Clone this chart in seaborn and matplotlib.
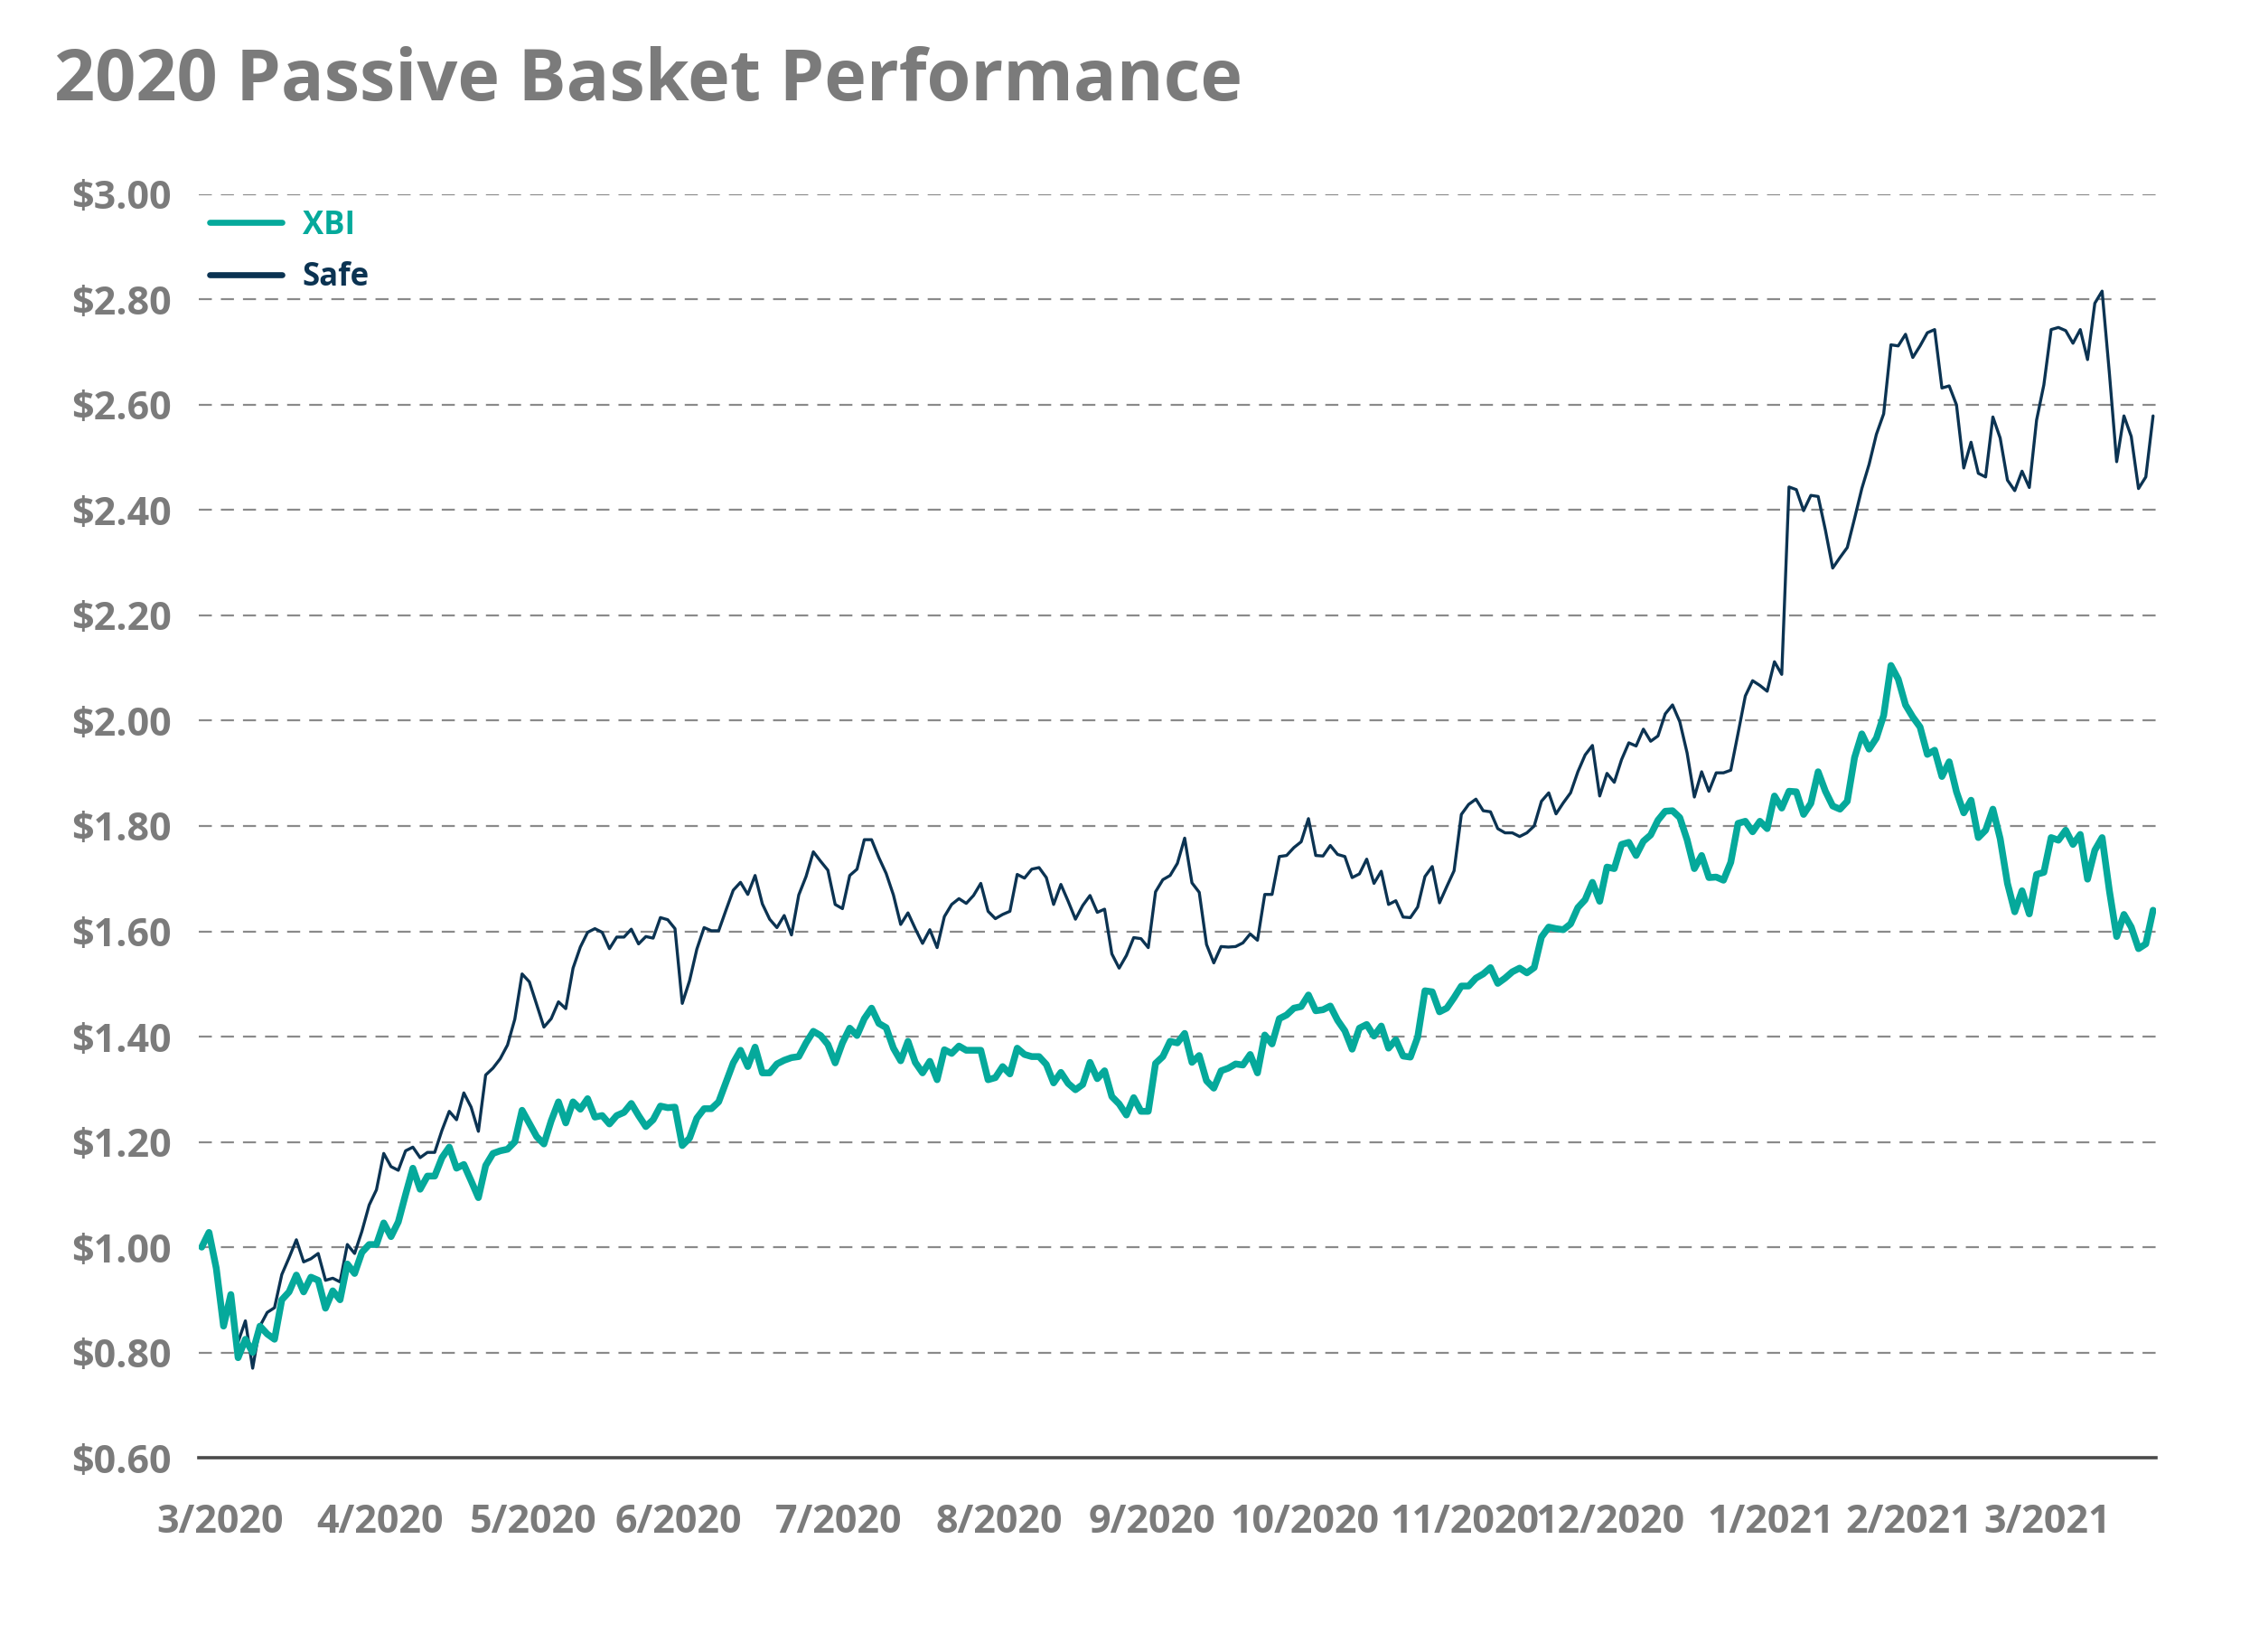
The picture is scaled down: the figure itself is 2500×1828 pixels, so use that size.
import numpy as np
import pandas as pd
import matplotlib
matplotlib.use("Agg")
import matplotlib.pyplot as plt
import seaborn as sns
from matplotlib.lines import Line2D

# values, one per trading day from 3/2/2020
xbi = [1.00, 1.028, 0.96, 0.85, 0.91, 0.79, 0.825, 0.80, 0.85, 0.835,
       0.825, 0.90, 0.915, 0.947, 0.915, 0.943, 0.937, 0.884, 0.917, 0.90,
       0.968, 0.95, 0.99, 1.005, 1.005, 1.046, 1.02, 1.048, 1.10, 1.15,
       1.11, 1.135, 1.135, 1.17, 1.19, 1.15, 1.157, 1.126, 1.094, 1.155,
       1.178, 1.183, 1.186, 1.20, 1.26, 1.235, 1.21, 1.196, 1.24, 1.276,
       1.236, 1.276, 1.262, 1.282, 1.247, 1.25, 1.234, 1.25, 1.256, 1.273,
       1.25, 1.229, 1.242, 1.268, 1.265, 1.266, 1.193, 1.207, 1.245, 1.263,
       1.263, 1.276, 1.313, 1.35, 1.374, 1.343, 1.38, 1.331, 1.331, 1.348,
       1.355, 1.36, 1.362, 1.388, 1.41, 1.402, 1.385, 1.35, 1.388, 1.416,
       1.402, 1.434, 1.454, 1.425, 1.417, 1.378, 1.354, 1.391, 1.351, 1.331,
       1.353, 1.318, 1.375, 1.368, 1.382, 1.374, 1.374, 1.374, 1.318, 1.322,
       1.343, 1.329, 1.378, 1.366, 1.362, 1.362, 1.347, 1.312, 1.332, 1.311,
       1.299, 1.309, 1.351, 1.32, 1.335, 1.286, 1.272, 1.251, 1.284, 1.258,
       1.258, 1.349, 1.362, 1.391, 1.388, 1.406, 1.351, 1.364, 1.316, 1.302,
       1.335, 1.34, 1.348, 1.346, 1.366, 1.331, 1.403, 1.386, 1.434, 1.441,
       1.454, 1.457, 1.479, 1.449, 1.451, 1.458, 1.431, 1.411, 1.376, 1.416,
       1.423, 1.401, 1.42, 1.378, 1.394, 1.363, 1.361, 1.399, 1.487, 1.485,
       1.447, 1.454, 1.474, 1.496, 1.496, 1.511, 1.519, 1.531, 1.501, 1.511,
       1.523, 1.53, 1.521, 1.531, 1.589, 1.608, 1.605, 1.603, 1.614, 1.645,
       1.66, 1.693, 1.657, 1.722, 1.719, 1.765, 1.769, 1.744, 1.771, 1.783,
       1.811, 1.828, 1.829, 1.816, 1.774, 1.719, 1.744, 1.702, 1.703, 1.697,
       1.731, 1.805, 1.809, 1.789, 1.809, 1.795, 1.857, 1.834, 1.866, 1.865,
       1.822, 1.843, 1.903, 1.866, 1.838, 1.832, 1.847, 1.93, 1.975, 1.946,
       1.967, 2.01, 2.105, 2.079, 2.03, 2.007, 1.988, 1.936, 1.944, 1.894,
       1.922, 1.865, 1.825, 1.849, 1.778, 1.792, 1.832, 1.776, 1.691, 1.637,
       1.677, 1.633, 1.708, 1.712, 1.778, 1.773, 1.792, 1.765, 1.784, 1.699,
       1.754, 1.778, 1.677, 1.59, 1.632, 1.608, 1.567, 1.576, 1.64]

safe = [1.00, 1.02, 0.95, 0.86, 0.89, 0.82, 0.86, 0.77, 0.85, 0.876,
        0.885, 0.948, 0.98, 1.014, 0.972, 0.978, 0.988, 0.937, 0.941, 0.934,
        1.005, 0.988, 1.03, 1.08, 1.109, 1.178, 1.153, 1.146, 1.183, 1.19,
        1.17, 1.18, 1.18, 1.222, 1.258, 1.242, 1.293, 1.266, 1.22, 1.327,
        1.34, 1.358, 1.384, 1.433, 1.519, 1.504, 1.461, 1.418, 1.434, 1.466,
        1.453, 1.53, 1.57, 1.598, 1.605, 1.598, 1.567, 1.589, 1.589, 1.604,
        1.576, 1.59, 1.587, 1.626, 1.622, 1.605, 1.463, 1.506, 1.566, 1.607,
        1.601, 1.601, 1.64, 1.678, 1.693, 1.67, 1.706, 1.652, 1.623, 1.607,
        1.63, 1.593, 1.669, 1.704, 1.751, 1.733, 1.716, 1.651, 1.643, 1.706,
        1.718, 1.774, 1.774, 1.74, 1.71, 1.669, 1.613, 1.635, 1.605, 1.577,
        1.603, 1.569, 1.628, 1.651, 1.662, 1.653, 1.668, 1.691, 1.638, 1.624,
        1.632, 1.638, 1.708, 1.701, 1.718, 1.721, 1.702, 1.651, 1.689, 1.657,
        1.623, 1.649, 1.668, 1.636, 1.642, 1.557, 1.53, 1.554, 1.588, 1.586,
        1.569, 1.675, 1.698, 1.706, 1.729, 1.777, 1.692, 1.674, 1.575, 1.54,
        1.571, 1.57, 1.571, 1.578, 1.595, 1.583, 1.67, 1.67, 1.742, 1.744,
        1.759, 1.77, 1.814, 1.744, 1.743, 1.763, 1.746, 1.742, 1.702, 1.709,
        1.737, 1.691, 1.714, 1.651, 1.658, 1.627, 1.626, 1.646, 1.704, 1.723,
        1.654, 1.685, 1.715, 1.822, 1.841, 1.851, 1.829, 1.827, 1.795, 1.787,
        1.787, 1.78, 1.787, 1.80, 1.847, 1.863, 1.823, 1.844, 1.863, 1.903,
        1.935, 1.953, 1.857, 1.90, 1.883, 1.926, 1.958, 1.952, 1.984, 1.961,
        1.971, 2.013, 2.03, 1.998, 1.939, 1.855, 1.903, 1.866, 1.901, 1.901,
        1.906, 1.976, 2.047, 2.076, 2.067, 2.056, 2.112, 2.088, 2.444, 2.439,
        2.399, 2.428, 2.426, 2.362, 2.29, 2.31, 2.329, 2.384, 2.441, 2.487,
        2.544, 2.583, 2.714, 2.712, 2.734, 2.69, 2.712, 2.737, 2.743, 2.632,
        2.636, 2.60, 2.48, 2.529, 2.47, 2.463, 2.577, 2.537, 2.457, 2.437,
        2.474, 2.443, 2.571, 2.638, 2.743, 2.747, 2.741, 2.717, 2.743, 2.686,
        2.793, 2.816, 2.66, 2.492, 2.579, 2.54, 2.441, 2.463, 2.579]

month_labels = ["3/2020", "4/2020", "5/2020", "6/2020", "7/2020", "8/2020",
                "9/2020", "10/2020", "11/2020", "12/2020", "1/2021", "2/2021", "3/2021"]
# trading days in each month, used to place the month labels
month_days = [22, 21, 20, 22, 22, 21, 21, 22, 20, 22, 19, 19, 18]
y_ticks = [0.6, 0.8, 1.0, 1.2, 1.4, 1.6, 1.8, 2.0, 2.2, 2.4, 2.6, 2.8, 3.0]

teal = "#05a99b"
navy = "#0b3352"
grey = "#7b7b7b"

df = pd.DataFrame({"day": np.arange(len(xbi)), "XBI": xbi, "Safe": safe})

sns.set_style("white")
plt.rcParams["font.family"] = ["Open Sans", "DejaVu Sans"]
plt.rcParams["font.weight"] = "bold"

fig = plt.figure(figsize=(25, 18.28), dpi=100)
ax = fig.add_axes([0.088, 0.1176, 0.8664, 0.7648])

# dashed grid
for v in y_ticks[1:]:
    ax.axhline(v, color="#8a8a8a", lw=1.6, ls=(0, (6.5, 4.5)), zorder=1)

sns.lineplot(data=df, x="day", y="Safe", color=navy, lw=2.4, ax=ax, zorder=3)
sns.lineplot(data=df, x="day", y="XBI", color=teal, lw=5.4, ax=ax, zorder=4)

ax.set_xlim(-0.4, len(xbi) - 0.6)
ax.set_ylim(0.6, 3.0)
for s in ["top", "right", "left"]:
    ax.spines[s].set_visible(False)
ax.spines["bottom"].set_color("#4a4a4a")
ax.spines["bottom"].set_linewidth(2.6)
ax.spines["bottom"].set_zorder(5)

ax.set_yticks(y_ticks)
ax.set_yticklabels(["${:.2f}".format(v) for v in y_ticks])
starts = np.concatenate([[0], np.cumsum(month_days)[:-1]])
ax.set_xticks(starts + 2.5)
ax.set_xticklabels(month_labels)
ax.tick_params(axis="both", length=0, labelsize=31, labelcolor=grey)
ax.tick_params(axis="x", pad=36)
ax.tick_params(axis="y", pad=22)
for t in ax.get_xticklabels() + ax.get_yticklabels():
    t.set_fontweight("bold")
ax.set_xlabel("")
ax.set_ylabel("")

handles = [Line2D([], [], color=teal, lw=4.8, solid_capstyle="round"),
           Line2D([], [], color=navy, lw=4.8, solid_capstyle="round")]
leg = ax.legend(handles, ["XBI", "Safe"], loc="upper left",
                bbox_to_anchor=(-0.002, 1.0), frameon=False, fontsize=25,
                handlelength=2.3, handletextpad=0.65, labelspacing=0.62,
                borderaxespad=0.08, labelcolor=[teal, navy])
for t in leg.get_texts():
    t.set_fontweight("bold")

fig.text(0.024, 0.972, "2020 Passive Basket Performance", fontsize=57,
         fontweight="bold", color=grey, ha="left", va="top")

fig.savefig("out.png", dpi=100)
